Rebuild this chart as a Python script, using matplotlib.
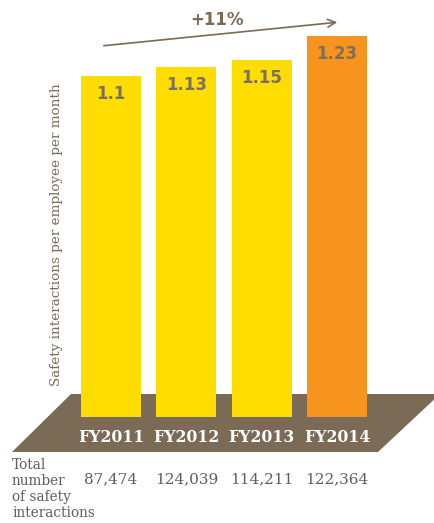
import matplotlib.pyplot as plt
from matplotlib.patches import Polygon

years = ['FY2011', 'FY2012', 'FY2013', 'FY2014']
rate = [1.1, 1.13, 1.15, 1.23]
totals = ['87,474', '124,039', '114,211', '122,364']
bar_colors = ['#FFDD00', '#FFDD00', '#FFDD00', '#F7941D']
row_title = ['Total', 'number', 'of safety', 'interactions']

brown = '#7B6A56'
label_grey = '#7A6F60'
text_grey = '#5E5E5E'

W, H = 435, 523
fig = plt.figure(figsize=(W / 100, H / 100), dpi=100)
ax = fig.add_axes([0, 0, 1, 1])

# 1 value unit = 310 px, baseline 417 px from the top; bars 75.3 px apart
px_per_unit = 310.0
base_px = H - 417
step = 75.33
x0 = 111
ax.set_ylim(-base_px / px_per_unit, (H - base_px) / px_per_unit)
ax.set_xlim(-x0 / step, (W - x0) / step)
ax.axis('off')


def dx(px):
    return (px - x0) / step


def dy(py):
    return (417 - py) / px_per_unit


# brown floor under the bars
floor = Polygon([(dx(71), dy(394)), (dx(440), dy(394)),
                 (dx(378), dy(452)), (dx(12), dy(452))],
                closed=True, facecolor=brown, edgecolor='none', zorder=1,
                clip_on=False)
ax.add_patch(floor)

xs = range(len(years))
ax.bar(xs, rate, width=60 / step, color=bar_colors, zorder=3)

for i, v in enumerate(rate):
    ax.text(i, v - 0.058, f'{v:g}', ha='center', va='center', fontsize=12,
            fontweight='bold', color=label_grey, zorder=4)
    ax.text(i, dy(437), years[i], ha='center', va='center',
            fontsize=11.3, fontweight='bold', family='DejaVu Serif',
            color='white', zorder=4)
    ax.text(i, dy(479), totals[i], ha='center', va='center',
            fontsize=11, family='DejaVu Serif', color=text_grey)

for k, line in enumerate(row_title):
    fig.text(12 / W, 1 - (465 + 16 * k) / H, line, ha='left', va='center',
             fontsize=9.8, family='DejaVu Serif', color=text_grey)

fig.text(57 / W, 1 - 235 / H, 'Safety interactions per employee per month',
         rotation=90, ha='center', va='center', fontsize=9.7,
         family='DejaVu Serif', color='#7A6B5A')

# growth arrow across the top
ax.annotate('', xy=(340 / W, 1 - 22 / H), xytext=(101 / W, 1 - 46 / H),
            xycoords='figure fraction', textcoords='figure fraction',
            arrowprops=dict(arrowstyle='->', color=brown, lw=1.2,
                            mutation_scale=14))
fig.text(217 / W, 1 - 20 / H, '+11%', ha='center', va='center',
         fontsize=12, fontweight='bold', color=brown)

fig.savefig('out.png', dpi=100)
